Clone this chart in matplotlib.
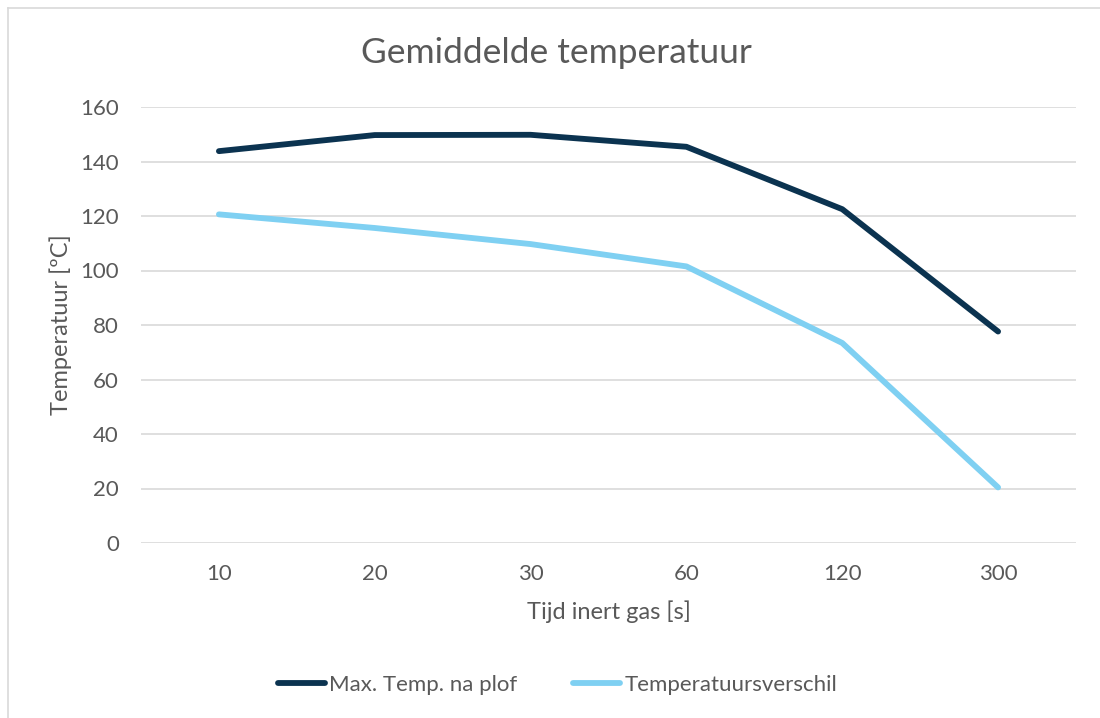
import numpy as np
import matplotlib.pyplot as plt
from matplotlib.lines import Line2D

# DATA
tijd = ['10', '20', '30', '60', '120', '300']
max_temp = [143.8, 149.7, 149.8, 145.4, 122.5, 77.6]
temp_verschil = [120.6, 115.6, 109.7, 101.5, 73.4, 20.4]

tekst_kleur = '#595959'
donker = '#0B3350'
licht = '#7FD0F2'

plt.rcParams['font.family'] = ['Lato', 'DejaVu Sans']

fig = plt.figure(figsize=(11, 7.18), dpi=100)
ax = fig.add_axes([141 / 1100, 1 - 543 / 718, 935 / 1100, 436 / 718])

x = np.arange(len(tijd))
ax.plot(x, max_temp, color=donker, lw=4.2, solid_capstyle='round', solid_joinstyle='round',
        label='Max. Temp. na plof', zorder=3)
ax.plot(x, temp_verschil, color=licht, lw=4.2, solid_capstyle='round', solid_joinstyle='round',
        label='Temperatuursverschil', zorder=3)

# ASSEN
ax.set_xlim(-0.5, len(tijd) - 0.5)
ax.set_ylim(0, 160)
ax.set_yticks(np.arange(0, 161, 20))
ax.set_xticks(x)
ax.set_xticklabels(tijd)
ax.grid(axis='y', color='#D9D9D9', lw=1.2)
ax.set_axisbelow(True)
for s in ax.spines.values():
    s.set_visible(False)
ax.tick_params(length=0, labelsize=16, labelcolor=tekst_kleur)
ax.tick_params(axis='y', pad=16)
ax.tick_params(axis='x', pad=15)

ax.set_xlabel('Tijd inert gas [s]', fontsize=17, color=tekst_kleur, labelpad=12)
ax.set_ylabel('Temperatuur [ºC]', fontsize=17, color=tekst_kleur, labelpad=6)
fig.text(0.506, 1 - 53 / 718, 'Gemiddelde temperatuur', fontsize=25.5, color=tekst_kleur,
         ha='center', va='center')

# LEGENDA
ax.legend(loc='center', bbox_to_anchor=(0.507, 1 - 685 / 718), bbox_transform=fig.transFigure,
          ncol=2, frameon=False, fontsize=16, labelcolor=tekst_kleur, handlelength=2.1,
          handletextpad=0.2, columnspacing=2.5)

# RAND (alleen boven en links zichtbaar)
fig.add_artist(Line2D([8 / 1100, 8 / 1100], [0, 1 - 8 / 718], transform=fig.transFigure,
                      color='#D9D9D9', lw=1.2))
fig.add_artist(Line2D([8 / 1100, 1], [1 - 8 / 718, 1 - 8 / 718], transform=fig.transFigure,
                      color='#D9D9D9', lw=1.2))

fig.savefig('out.png', dpi=100)
